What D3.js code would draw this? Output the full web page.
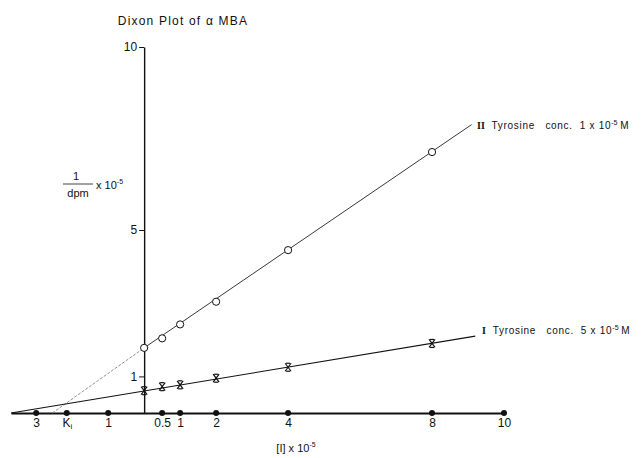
<!DOCTYPE html>
<html>
<head>
<meta charset="utf-8">
<style>
  body { margin: 0; background: #fff; }
  svg { display: block; font-family: "Liberation Sans", "DejaVu Sans", sans-serif; }
  svg text { white-space: pre; }
  .axis text { font-size: 12px; fill: #111; }
  .axis .domain { stroke: #111; }
  .axis line { stroke: #111; }
</style>
</head>
<body>
<svg width="641" height="458"></svg>
<script src="https://d3js.org/d3.v7.min.js"></script>
<script>
  // inhibitor conc [I] x 10^-5 and 1/dpm x 10^-5
  var conc = [0, 0.5, 1, 2, 4, 8];
  var seriesII = [1.78, 2.04, 2.42, 3.04, 4.45, 7.13];   // Tyrosine 1 x 10^-5 M (open circles)
  var seriesI = [0.61, 0.72, 0.77, 0.95, 1.25, 1.90];    // Tyrosine 5 x 10^-5 M (crosses)

  // hand drawn fit lines (x, y pairs)
  var fitIIextX = [-2.55, 0], fitIIextY = [0, 1.78];
  var fitIIX = [0, 9.1], fitIIY = [1.78, 7.88];
  var fitIX = [-3.7, 9.2], fitIY = [0, 2.1];

  var xTicks = [-3, -2.15, -1, 0.5, 1, 2, 4, 8, 10];
  var xTickLabels = ["3", "K", "1", "0.5", "1", "2", "4", "8", "10"];
  var yTicks = [1, 5, 10];

  var svg = d3.select("svg");

  var x = d3.scaleLinear().domain([-3.7, 10]).range([11, 504]);
  var y = d3.scaleLinear().domain([0, 10]).range([413, 47]);

  var line = d3.line()
    .x(function(d) { return x(d[0]); })
    .y(function(d) { return y(d[1]); });

  function pairs(xs, ys) {
    return xs.map(function(v, i) { return [v, ys[i]]; });
  }

  // title
  svg.append("text")
    .attr("x", 183)
    .attr("y", 25)
    .attr("text-anchor", "middle")
    .attr("font-size", 12)
    .attr("letter-spacing", 1.2)
    .attr("fill", "#111")
    .text("Dixon Plot of α MBA");

  // y axis
  var yAxis = svg.append("g")
    .attr("class", "axis")
    .attr("transform", "translate(" + x(0) + ",0)")
    .call(d3.axisLeft(y).tickValues(yTicks).tickSize(5).tickSizeOuter(0).tickPadding(2));
  yAxis.select(".domain").attr("stroke-width", 1.4);

  // x axis
  var xAxis = svg.append("g")
    .attr("class", "axis")
    .attr("transform", "translate(0," + y(0) + ")")
    .call(d3.axisBottom(x).tickValues(xTicks).tickSize(0).tickSizeOuter(0).tickPadding(5)
      .tickFormat(function(d, i) { return xTickLabels[i]; }));
  xAxis.select(".domain").attr("stroke-width", 2);
  xAxis.selectAll(".tick text")
    .filter(function(d, i) { return i == 1; })
    .append("tspan")
    .attr("font-size", 8)
    .attr("dy", "0.35em")
    .text("i");

  // dots on the x axis
  svg.append("g")
    .selectAll("circle")
    .data(xTicks)
    .enter().append("circle")
    .attr("cx", function(d) { return x(d); })
    .attr("cy", y(0))
    .attr("r", 3)
    .attr("fill", "#111");

  // fit lines
  svg.append("path")
    .datum(pairs(fitIIextX, fitIIextY))
    .attr("d", line)
    .attr("fill", "none")
    .attr("stroke", "#777")
    .attr("stroke-width", 0.8)
    .attr("stroke-dasharray", "3,1.5");
  svg.append("path")
    .datum(pairs(fitIIX, fitIIY))
    .attr("d", line)
    .attr("fill", "none")
    .attr("stroke", "#222")
    .attr("stroke-width", 0.9);
  svg.append("path")
    .datum(pairs(fitIX, fitIY))
    .attr("d", line)
    .attr("fill", "none")
    .attr("stroke", "#111")
    .attr("stroke-width", 1.1);

  // open circles, series II
  svg.append("g")
    .selectAll("circle")
    .data(pairs(conc, seriesII))
    .enter().append("circle")
    .attr("cx", function(d) { return x(d[0]); })
    .attr("cy", function(d) { return y(d[1]); })
    .attr("r", 3.6)
    .attr("fill", "#fff")
    .attr("stroke", "#111")
    .attr("stroke-width", 1);

  // crosses, series I
  var crosses = svg.append("g")
    .attr("stroke", "#111")
    .attr("stroke-width", 1.2)
    .selectAll("g")
    .data(pairs(conc, seriesI))
    .enter().append("g")
    .attr("transform", function(d) { return "translate(" + x(d[0]) + "," + y(d[1]) + ")"; });
  crosses.append("line").attr("x1", -3).attr("y1", -4).attr("x2", 3).attr("y2", 4);
  crosses.append("line").attr("x1", 3).attr("y1", -4).attr("x2", -3).attr("y2", 4);
  crosses.append("line").attr("x1", -2).attr("y1", -4).attr("x2", 2).attr("y2", -4);
  crosses.append("line").attr("x1", -2).attr("y1", 4).attr("x2", 2).attr("y2", 4);

  // y label: 1/dpm x 10^-5
  var yl = svg.append("g").attr("fill", "#111");
  yl.append("text").attr("x", 76).attr("y", 180).attr("text-anchor", "middle").attr("font-size", 11).text("1");
  yl.append("line").attr("x1", 63).attr("x2", 93).attr("y1", 184).attr("y2", 184).attr("stroke", "#111").attr("stroke-width", 0.8);
  yl.append("text").attr("x", 78).attr("y", 197).attr("text-anchor", "middle").attr("font-size", 11).text("dpm");
  var ylx = yl.append("text").attr("x", 96).attr("y", 189).attr("font-size", 11);
  ylx.append("tspan").text("x 10");
  ylx.append("tspan").attr("font-size", 7).attr("dy", -5).text("-5");

  // x label: [I] x 10^-5
  var xl = svg.append("text")
    .attr("x", 296)
    .attr("y", 452)
    .attr("text-anchor", "middle")
    .attr("font-size", 11)
    .attr("fill", "#111");
  xl.append("tspan").text("[I] x 10");
  xl.append("tspan").attr("font-size", 7).attr("dy", -5).text("-5");

  // series labels
  function seriesLabel(xp, yp, numeral, conc) {
    var t = svg.append("text")
      .attr("x", xp)
      .attr("y", yp)
      .attr("font-size", 10)
      .attr("fill", "#111");
    t.append("tspan").attr("font-family", "Liberation Serif, serif").attr("font-weight", "bold").text(numeral);
    t.append("tspan").attr("letter-spacing", 0.7).text("  Tyrosine   conc.  " + conc + " x 10");
    t.append("tspan").attr("font-size", 7).attr("dy", -4).text("-5");
    t.append("tspan").attr("dy", 4).text(" M");
  }
  seriesLabel(477, 129, "II", "1");
  seriesLabel(482, 334, "I", "5");
</script>
</body>
</html>
